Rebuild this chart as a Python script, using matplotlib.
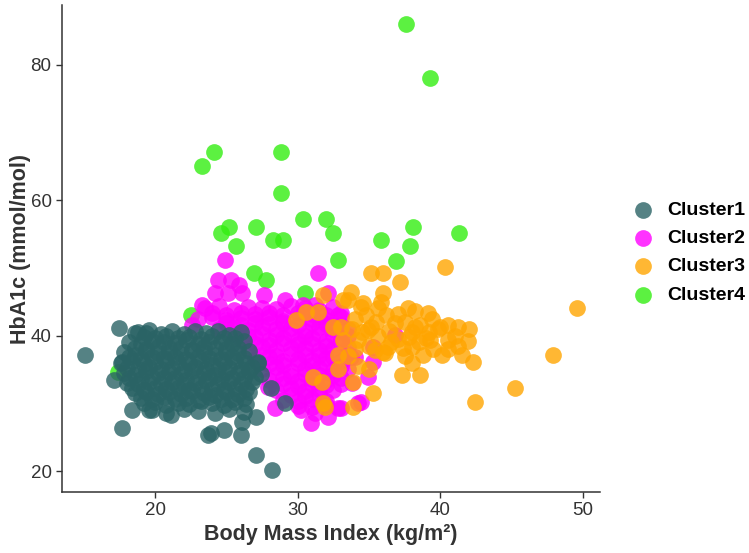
import matplotlib
matplotlib.use("Agg")
import matplotlib.pyplot as plt

plt.rcParams['font.family'] = ['Liberation Sans', 'DejaVu Sans']

# cluster 1 (teal): dense core plus scattered edge points
c1_bmi = [18.8, 19.6, 20.4, 21.2, 22.0, 22.8, 23.6, 24.4, 25.2, 26.0,
          18.2, 19.0, 19.8, 20.6, 21.4, 22.2, 23.0, 23.8, 24.6, 25.4, 26.2,
          17.8, 18.6, 19.4, 20.2, 21.0, 21.8, 22.6, 23.4, 24.2, 25.0, 25.8, 26.6,
          17.6, 18.4, 19.2, 20.0, 20.8, 21.6, 22.4, 23.2, 24.0, 24.8, 25.6, 26.4, 27.2,
          17.8, 18.6, 19.4, 20.2, 21.0, 21.8, 22.6, 23.4, 24.2, 25.0, 25.8, 26.6, 27.4,
          18.0, 18.8, 19.6, 20.4, 21.2, 22.0, 22.8, 23.6, 24.4, 25.2, 26.0, 26.8,
          18.6, 19.4, 20.2, 21.0, 21.8, 22.6, 23.4, 24.2, 25.0, 25.8, 26.6,
          19.2, 20.0, 20.8, 21.6, 22.4, 23.2, 24.0, 24.8, 25.6, 26.4,
          19.8, 20.8, 22.0, 23.0, 24.2, 25.2, 26.2,
          19.2, 20.0, 20.8, 21.6, 22.4, 23.2, 24.0, 24.8, 25.6,
          18.6, 19.4, 20.2, 21.0, 21.8, 22.6, 23.4, 24.2, 25.0, 25.8,
          18.2, 19.0, 19.8, 20.6, 21.4, 22.2, 23.0, 23.8, 24.6, 25.4, 26.2,
          18.0, 18.8, 19.6, 20.4, 21.2, 22.0, 22.8, 23.6, 24.4, 25.2, 26.0, 26.8,
          18.2, 19.0, 19.8, 20.6, 21.4, 22.2, 23.0, 23.8, 24.6, 25.4, 26.2, 27.0,
          18.4, 19.2, 20.0, 20.8, 21.6, 22.4, 23.2, 24.0, 24.8, 25.6, 26.4,
          19.0, 19.8, 20.6, 21.4, 22.2, 23.0, 23.8, 24.6, 25.4, 26.2,
          15.1, 17.5, 17.7, 23.7, 24.8, 26.0, 26.1, 27.1, 28.2, 18.4, 17.1,
          17.7, 18.6, 19.4, 21.1, 19.6, 28.1, 29.1, 27.2, 27.1, 23.9]
c1_hba1c = [40.5, 40.8, 40.3, 40.6, 40.2, 40.7, 40.4, 40.6, 40.1, 40.5,
            39.1, 38.8, 39.2, 39.0, 38.9, 39.3, 38.8, 39.1, 39.0, 38.7, 39.2,
            37.5, 37.2, 37.7, 37.4, 37.6, 37.3, 37.8, 37.5, 37.2, 37.6, 37.4, 37.7,
            36.0, 36.3, 35.8, 36.1, 36.2, 35.9, 36.0, 36.3, 35.7, 36.1, 36.2, 35.9, 36.0,
            34.5, 34.2, 34.7, 34.4, 34.6, 34.3, 34.8, 34.5, 34.2, 34.6, 34.4, 34.7, 34.3,
            33.0, 32.8, 33.2, 32.9, 33.1, 32.7, 33.0, 33.3, 32.8, 33.1, 32.9, 33.2,
            31.5, 31.7, 31.3, 31.6, 31.4, 31.8, 31.5, 31.2, 31.6, 31.4, 31.7,
            30.0, 30.2, 29.8, 30.1, 29.9, 30.3, 30.0, 29.7, 30.2, 29.9,
            29.0, 28.6, 29.2, 28.8, 28.5, 29.1, 28.7,
            39.8, 39.6, 39.9, 39.7, 39.8, 39.5, 39.9, 39.7, 39.6,
            38.2, 38.0, 38.3, 38.1, 38.2, 37.9, 38.3, 38.1, 38.0, 38.2,
            36.8, 36.6, 36.9, 36.7, 36.8, 36.5, 36.9, 36.7, 36.6, 36.8, 36.7,
            35.2, 35.0, 35.3, 35.1, 35.2, 34.9, 35.3, 35.1, 35.0, 35.2, 35.1, 35.3,
            33.8, 33.6, 33.9, 33.7, 33.8, 33.5, 33.9, 33.7, 33.6, 33.8, 33.7, 33.9,
            32.2, 32.0, 32.3, 32.1, 32.2, 31.9, 32.3, 32.1, 32.0, 32.2, 32.1,
            30.8, 30.6, 30.9, 30.7, 30.8, 30.5, 30.9, 30.7, 30.6, 30.8,
            37.1, 41.1, 26.4, 25.3, 26.1, 25.3, 27.2, 22.4, 20.1, 29.0, 33.4,
            36.1, 40.4, 40.4, 28.3, 29.0, 32.3, 30.0, 36.1, 28.0, 25.6]

# cluster 2 (magenta)
c2_bmi = [23.5, 24.5, 25.5, 26.5, 27.5, 28.5, 29.5, 30.5, 31.5, 32.5,
          23.0, 24.0, 25.0, 26.0, 27.0, 28.0, 29.0, 30.0, 31.0, 32.0, 33.0,
          24.5, 25.5, 26.5, 27.5, 28.5, 29.5, 30.5, 31.5, 32.5, 33.5,
          26.0, 27.0, 28.0, 29.0, 30.0, 31.0, 32.0, 33.0,
          26.5, 27.5, 28.5, 29.5, 30.5, 31.5, 32.5, 33.5,
          27.0, 28.0, 29.0, 30.0, 31.0, 32.0, 33.0,
          27.5, 28.5, 29.5, 30.5, 31.5, 32.5, 33.5,
          28.0, 29.0, 30.0, 31.0, 32.0, 33.0,
          28.5, 29.5, 30.5, 31.5, 32.5,
          29.0, 30.0, 31.0, 32.0,
          24.0, 25.0, 26.0, 27.0, 28.0, 29.0, 30.0, 31.0, 32.0, 33.0,
          25.0, 26.0, 27.0, 28.0, 29.0, 30.0, 31.0, 32.0, 33.0,
          25.5, 26.5, 27.5, 28.5, 29.5, 30.5, 31.5, 32.5, 33.5,
          27.0, 28.0, 29.0, 30.0, 31.0, 32.0, 33.0,
          27.5, 28.5, 29.5, 30.5, 31.5, 32.5, 33.5,
          28.0, 29.0, 30.0, 31.0, 32.0, 33.0,
          28.5, 29.5, 30.5, 31.5, 32.5,
          29.0, 30.0, 31.0, 32.0, 33.0,
          29.5, 30.5, 31.5,
          30.0, 31.0, 32.0,
          24.9, 24.4, 25.3, 25.9, 24.2, 25.1, 26.1, 27.6, 29.1, 32.1, 30.4,
          31.2, 23.3, 31.4, 22.6, 27.9, 28.4, 30.2, 31.2, 32.1, 30.9, 32.8,
          34.2, 33.8, 34.0, 36.8, 35.3, 35.3, 34.9, 34.4, 33.0, 33.7, 32.8]
c2_hba1c = [44.0, 44.3, 43.8, 44.2, 44.1, 43.9, 44.4, 44.0, 43.7, 44.2,
            42.5, 42.8, 42.3, 42.6, 42.4, 42.7, 42.2, 42.6, 42.5, 42.3, 42.8,
            41.0, 41.3, 40.8, 41.2, 40.9, 41.1, 40.7, 41.2, 40.9, 41.0,
            39.5, 39.8, 39.3, 39.6, 39.4, 39.7, 39.2, 39.5,
            38.0, 38.3, 37.8, 38.1, 38.2, 37.9, 38.0, 38.3,
            36.5, 36.8, 36.3, 36.6, 36.4, 36.7, 36.2,
            35.0, 35.3, 34.8, 35.1, 35.2, 34.9, 35.0,
            33.5, 33.7, 33.3, 33.6, 33.4, 33.8,
            32.0, 32.2, 31.8, 32.1, 31.9,
            30.5, 30.3, 30.7, 30.4,
            43.3, 43.1, 43.4, 43.2, 43.3, 43.0, 43.4, 43.2, 43.1, 43.3,
            41.8, 41.6, 41.9, 41.7, 41.8, 41.5, 41.9, 41.7, 41.6,
            40.2, 40.0, 40.3, 40.1, 40.2, 39.9, 40.3, 40.1, 40.0,
            38.8, 38.6, 38.9, 38.7, 38.8, 38.5, 38.9,
            37.2, 37.0, 37.3, 37.1, 37.2, 36.9, 37.3,
            35.8, 35.6, 35.9, 35.7, 35.8, 35.5,
            34.2, 34.0, 34.3, 34.1, 34.2,
            32.8, 32.6, 32.9, 32.7, 32.8,
            31.2, 31.0, 31.3,
            29.6, 29.4, 29.7,
            51.2, 48.2, 48.2, 47.5, 46.3, 46.3, 46.3, 46.0, 45.3, 46.3, 44.5,
            44.5, 44.5, 49.2, 41.5, 32.4, 29.3, 29.0, 28.6, 28.0, 27.1, 29.3,
            30.0, 33.0, 36.8, 40.1, 38.3, 36.1, 33.9, 30.2, 29.3, 36.8, 43.0]

# cluster 3 (orange)
c3_bmi = [35.1, 36.0, 37.2, 36.0, 33.7, 34.4, 35.6, 37.7, 39.1, 40.3,
          33.2, 32.5, 31.1, 33.9, 35.3, 37.3, 38.6, 42.4, 45.2, 47.9,
          49.6, 33.9, 31.8, 30.6, 33.0, 29.9, 31.4, 31.8, 33.5, 33.2,
          31.7, 32.8, 31.9, 38.2, 40.0, 41.2, 41.9, 41.5, 42.3, 40.1,
          38.8, 38.0, 37.4, 39.3, 40.5, 36.3, 36.1, 35.1, 34.9,
          34.0, 34.8, 35.5, 36.2, 36.8, 37.5, 38.0, 38.6, 39.2, 39.8,
          40.5, 41.0, 37.0, 38.5, 39.5, 36.5, 35.6, 34.5, 33.8, 35.0,
          36.0, 37.5, 38.0, 40.5, 41.2, 42.0, 33.5, 34.2, 35.0, 32.8, 34.0,
          34.6, 35.8, 37.0, 38.2, 39.4, 36.4, 37.8, 39.0, 34.2, 35.4]
c3_hba1c = [49.2, 49.2, 47.9, 46.3, 46.4, 44.2, 44.1, 44.1, 43.3, 50.1,
            45.3, 41.3, 33.9, 33.1, 31.5, 34.2, 34.2, 30.2, 32.3, 37.1,
            44.1, 29.5, 30.0, 43.5, 41.3, 42.3, 43.5, 46.0, 45.3, 39.3,
            33.1, 37.1, 29.5, 41.3, 41.3, 41.3, 39.2, 37.1, 36.1, 37.1,
            37.1, 38.3, 38.2, 39.4, 39.4, 38.3, 37.4, 41.3, 40.8,
            42.5, 43.0, 42.0, 43.0, 41.8, 42.0, 40.5, 41.5, 40.5, 41.0,
            41.5, 40.0, 39.5, 39.0, 38.0, 39.0, 40.0, 40.5, 41.0, 38.5,
            37.5, 37.0, 36.0, 38.0, 38.5, 41.0, 37.0, 35.5, 35.0, 35.0, 38.0,
            44.8, 45.0, 43.2, 43.6, 42.4, 40.6, 39.8, 39.6, 39.4, 37.8]

# cluster 4 (green)
c4_bmi = [37.6, 39.3, 24.1, 23.3, 28.8, 28.8, 25.2, 24.6, 25.7, 27.1,
          28.3, 29.0, 30.4, 32.0, 32.5, 35.8, 38.1, 37.9, 41.3, 36.9,
          32.8, 26.9, 27.8, 30.5, 22.5, 17.4]
c4_hba1c = [86.0, 78.0, 67.1, 65.0, 67.1, 61.1, 56.0, 55.2, 53.2, 56.0,
            54.1, 54.1, 57.2, 57.2, 55.2, 54.1, 56.0, 53.2, 55.2, 51.0,
            51.2, 49.2, 48.2, 46.3, 43.0, 34.6]

labels = ['Cluster1', 'Cluster2', 'Cluster3', 'Cluster4']
colors = ['#2A6365', '#FF00FF', '#FFA500', '#33EE11']
zorders = [4, 2, 3, 1]
xs = [c1_bmi, c2_bmi, c3_bmi, c4_bmi]
ys = [c1_hba1c, c2_hba1c, c3_hba1c, c4_hba1c]

fig = plt.figure(figsize=(7.49, 5.53), dpi=100)
ax = fig.add_axes([62 / 749, 61 / 553, 538 / 749, 487 / 553])

for x, y, lab, col, z in zip(xs, ys, labels, colors, zorders):
    ax.scatter(x, y, s=145, color=col, alpha=0.8, linewidths=0, label=lab, zorder=z)

ax.set_xlim(13.48, 51.18)
ax.set_ylim(16.9, 88.8)
ax.set_xticks([20, 30, 40, 50])
ax.set_yticks([20, 40, 60, 80])

for side in ['top', 'right']:
    ax.spines[side].set_visible(False)
for side in ['left', 'bottom']:
    ax.spines[side].set_color('#333333')
    ax.spines[side].set_linewidth(1.1)
ax.tick_params(direction='out', length=4, width=1, color='#333333',
               labelsize=13.5, labelcolor='#333333')

ax.set_xlabel('Body Mass Index (kg/m²)', fontsize=15.5, fontweight='bold',
              color='#333333', labelpad=3)
ax.set_ylabel('HbA1c (mmol/mol)', fontsize=15.5, fontweight='bold',
              color='#333333', labelpad=0)

fig.legend(loc='center left', bbox_to_anchor=(624 / 749, 1 - 252.5 / 553),
           frameon=False, prop={'weight': 'bold', 'size': 14},
           handlelength=2.0, handletextpad=0.25, labelspacing=0.55,
           borderpad=0, borderaxespad=0, scatterpoints=1)

fig.savefig('out.png', dpi=100)
